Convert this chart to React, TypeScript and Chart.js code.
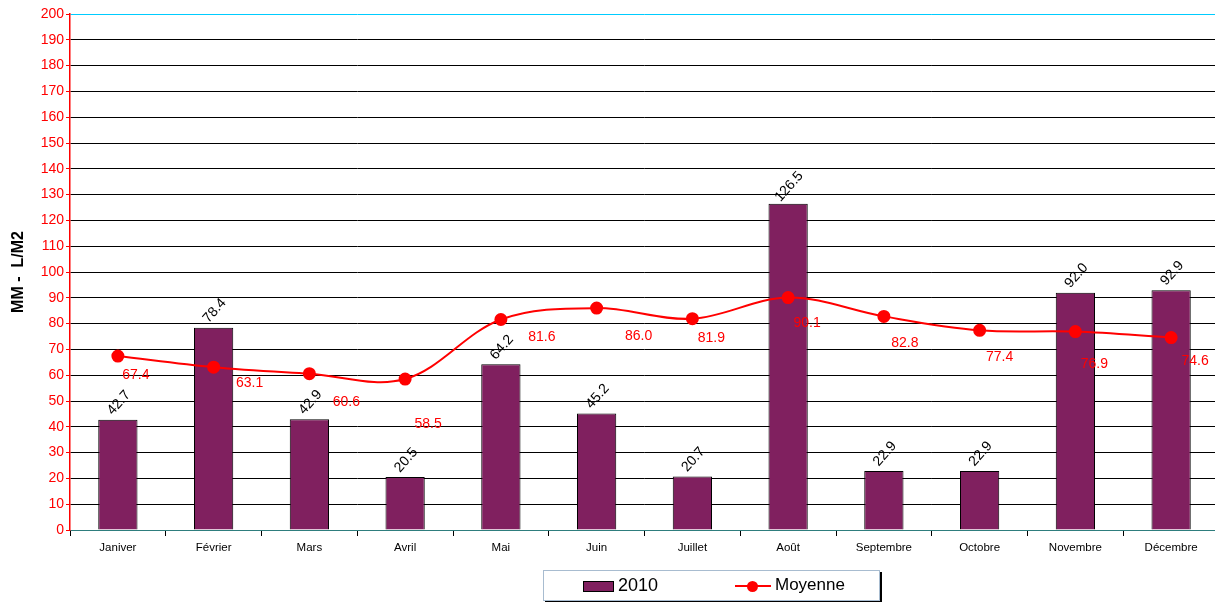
import React, { useEffect, useRef } from "react";
import { Chart, registerables } from "chart.js";

Chart.register(...registerables);

const months = ["Janiver", "Février", "Mars", "Avril", "Mai", "Juin", "Juillet", "Août", "Septembre", "Octobre", "Novembre", "Décembre"];
const values2010 = [42.7, 78.4, 42.9, 20.5, 64.2, 45.2, 20.7, 126.5, 22.9, 22.9, 92.0, 92.9];
const moyenne = [67.4, 63.1, 60.6, 58.5, 81.6, 86.0, 81.9, 90.1, 82.8, 77.4, 76.9, 74.6];
// label offsets (style only) for the Moyenne value labels
const moyLabelDx = [18, 36, 37, 23, 41, 42, 19, 19, 21, 20, 19, 24];
const moyLabelDy = [19, 16, 28, 45, 18, 28, 19, 26, 27, 27, 33, 24];

const FONT = "Arial, 'Liberation Sans', sans-serif";

const labelPlugin = {
  id: "valueLabels",
  afterDatasetsDraw(chart: any) {
    const ctx = chart.ctx;
    ctx.save();
    const barMeta = chart.getDatasetMeta(0);
    ctx.font = `14px ${FONT}`;
    ctx.fillStyle = "#000";
    ctx.textAlign = "center";
    ctx.textBaseline = "middle";
    barMeta.data.forEach((el: any, i: number) => {
      ctx.save();
      ctx.translate(el.x + 1, el.y - 17);
      ctx.rotate(-Math.PI * 0.27);
      ctx.fillText(values2010[i].toFixed(1), 0, 0);
      ctx.restore();
    });
    const lineMeta = chart.getDatasetMeta(1);
    ctx.fillStyle = "#ff0000";
    lineMeta.data.forEach((el: any, i: number) => {
      ctx.fillText(moyenne[i].toFixed(1), el.x + moyLabelDx[i], el.y + moyLabelDy[i]);
    });
    ctx.restore();
  },
};

export default function App() {
  const ref = useRef<HTMLCanvasElement>(null);
  useEffect(() => {
    const chart = new Chart(ref.current!, {
      type: "bar",
      data: {
        labels: months,
        datasets: [
          {
            type: "bar",
            label: "2010",
            data: values2010,
            backgroundColor: "#80205F",
            borderColor: "#000",
            borderWidth: 1,
            barPercentage: 0.41,
            categoryPercentage: 1,
            order: 1,
          } as any,
          {
            type: "line",
            label: "Moyenne",
            data: moyenne,
            borderColor: "#ff0000",
            backgroundColor: "#ff0000",
            borderWidth: 2,
            pointRadius: 5.5,
            pointBackgroundColor: "#ff0000",
            pointBorderColor: "#ff0000",
            tension: 0.35,
            order: 0,
          } as any,
        ],
      },
      options: {
        animation: false,
        responsive: false,
        layout: { autoPadding: false, padding: { top: 14, right: 0, left: 0, bottom: 0 } },
        plugins: { legend: { display: false }, tooltip: { enabled: false } },
        scales: {
          x: {
            grid: {
              offset: true,
              drawOnChartArea: false,
              drawTicks: true,
              tickLength: 6,
              color: "#000",
            },
            border: { color: "#2e7d7d", width: 1 },
            ticks: { color: "#000", font: { family: FONT, size: 11.5 }, padding: 5, maxRotation: 0, autoSkip: false },
            afterFit: (s: any) => {
              s.height = 72;
              s.paddingRight = 0;
              s.paddingLeft = 0;
            },
          },
          y: {
            min: 0,
            max: 200,
            ticks: { stepSize: 10, color: "#ff0000", font: { family: FONT, size: 14 }, padding: 2 },
            grid: {
              color: (c: any) => (c.tick && c.tick.value === 200 ? "#00ccff" : c.tick && c.tick.value === 0 ? "#2e7d7d" : "#000"),
              tickColor: "#ff0000",
              tickLength: 4,
              lineWidth: 1,
            },
            border: { color: "#ff0000", width: 1.5 },
            title: {
              display: true,
              text: "MM -  L/M2",
              color: "#000",
              font: { family: FONT, size: 16, weight: "bold" },
              padding: { top: 9, bottom: 0 },
            },
            afterFit: (s: any) => { s.width = 70; },
          },
        },
      },
      plugins: [labelPlugin],
    });
    return () => chart.destroy();
  }, []);

  return (
    <div style={{ position: "fixed", left: 0, top: 0, width: 1215, height: 602, background: "#fff", fontFamily: FONT, overflow: "hidden" }}>
      <canvas ref={ref} width={1219} height={602} style={{ position: "absolute", left: 0, top: 0 }} />
      <div
        style={{
          position: "absolute",
          left: 543,
          top: 570,
          width: 335,
          height: 29,
          border: "1px solid #a8bcd0",
          boxShadow: "2px 2px 0 #000",
          background: "#fff",
        }}
      >
        <div style={{ position: "absolute", left: 39, top: 10, width: 29, height: 9, background: "#80205F", border: "1px solid #000" }} />
        <div style={{ position: "absolute", left: 74, top: 4, fontSize: 18, color: "#000", lineHeight: "20px" }}>2010</div>
        <div style={{ position: "absolute", left: 191, top: 14, width: 36, height: 2, background: "#ff0000" }} />
        <div style={{ position: "absolute", left: 203, top: 10, width: 11, height: 11, borderRadius: "50%", background: "#ff0000" }} />
        <div style={{ position: "absolute", left: 231, top: 4, fontSize: 17, color: "#000", lineHeight: "20px" }}>Moyenne</div>
      </div>
    </div>
  );
}
